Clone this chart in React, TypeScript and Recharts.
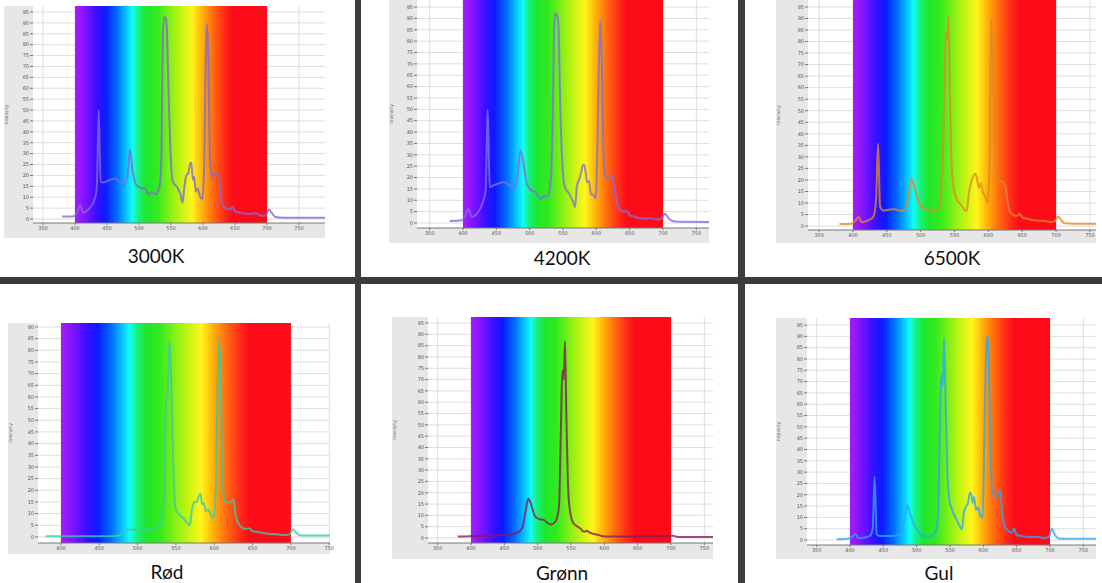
import React from "react";
import {
  LineChart,
  Line,
  XAxis,
  YAxis,
  CartesianGrid,
  ReferenceArea,
} from "recharts";

// wavelength grid (nm), shared by all six spectra
const WAVELENGTH = [
  380, 398, 404, 408, 413, 422, 430, 434, 437, 440, 445, 455, 462, 470, 477, 482, 486, 490, 496,
  503, 509, 515, 520, 527, 532, 535, 537, 539, 541, 543, 546, 549, 553, 559, 565, 568, 571, 574,
  577, 580, 582, 584, 586, 589, 592, 595, 599, 602, 604, 606, 608, 611, 614, 618, 622, 625, 628,
  633, 640, 643, 646, 650, 657, 665, 673, 682, 692, 698, 703, 707, 713, 725, 800,
];

const I_3000K = [
  1.1, 1.3, 3.5, 6.4, 2.9, 4.8, 8.5, 14, 50, 17, 16.8, 18, 18.6, 17, 15.5, 20, 32, 22, 15.6,
  14.2, 14, 11.2, 12, 11.5, 14.8, 28, 80, 92.7, 92.5, 90, 60, 32, 17, 14.8, 11, 7.5, 15, 20,
  21, 25.5, 25.8, 18, 19.4, 12.5, 14, 10.5, 9.2, 27, 70, 89.7, 77, 27, 19.4, 21.5, 20, 20.5, 8.7,
  5.5, 4.5, 4.4, 5.7, 3.4, 3, 2.5, 2.3, 2.6, 1.5, 1.6, 4.4, 3, 0.9, 0.6, 0.5,
];

const I_4200K = [
  0.9, 1.2, 3.5, 6.3, 2.7, 4.5, 9.5, 14.4, 50, 15.8, 16.4, 17.6, 18, 16.4, 15.4, 21, 32, 27.6, 17,
  14.3, 13.7, 10.7, 11.4, 12, 20, 54, 89, 92.4, 91.5, 88, 50, 26, 15.5, 13, 9.5, 7, 16.5, 19,
  22, 25.5, 25.5, 22, 18, 18.5, 12.5, 12.5, 10.8, 40, 72, 89, 73, 28, 19.5, 20.5, 21, 19, 14,
  7, 5, 5, 5.3, 3.4, 2.8, 2.2, 1.9, 2.1, 1.5, 2, 4.1, 2.6, 1, 0.6, 0.4,
];

const I_6500K = [
  0.9, 1, 2.5, 3.9, 1.7, 2.5, 4, 11, 35.8, 8.3, 6.8, 7.2, 7.3, 6.6, 7, 13, 20.5, 18, 11,
  8, 7.4, 6.2, 6.6, 7.5, 24, 60, 83.7, 80.8, 91, 60, 24, 16, 11.9, 9.5, 7, 6.5, 14, 18.4,
  21, 22.8, 22, 19, 16.5, 18.5, 14.5, 13, 10, 30, 90, 76, 55, 24, 20, 19.3, 19.1, 17.5, 11,
  5.8, 4.5, 4.5, 5.3, 3.8, 3.2, 2.6, 2.3, 2.3, 1.8, 2.1, 4.2, 2.8, 1.2, 1, 1,
];

const I_ROED = [
  0.3, 0.3, 0.3, 0.3, 0.3, 0.3, 0.3, 0.3, 0.3, 0.3, 0.3, 0.3, 0.3, 0.4, 0.7, 1.8, 2.8, 3.2, 3.2,
  2.9, 3.1, 3.3, 3.6, 4.3, 7, 20, 59, 61, 84, 76, 37, 13, 10, 8.2, 5.8, 5, 12, 15,
  15, 17.5, 18.6, 14, 14.5, 11, 11.8, 10, 7.9, 20, 60, 85, 72, 22, 15.5, 14.8, 15, 16, 9,
  5, 3.5, 3.5, 3.7, 2.4, 2.1, 1.6, 1.3, 1.1, 0.8, 1.1, 3.2, 1.8, 0.6, 0.6, 0.6,
];

const I_GROENN = [
  0.7, 0.8, 0.9, 0.9, 0.9, 1, 1, 1, 1.1, 1.1, 1.2, 1.4, 1.7, 2.4, 4.5, 12, 17.5, 15, 9.6,
  8.3, 8, 6.6, 6, 7.5, 14, 50, 74, 70, 87, 55, 20, 11, 6.8, 5.2, 4, 3, 2.9, 3.2,
  2.6, 2.2, 2, 1.8, 1.7, 1.5, 1.3, 1, 0.8, 0.7, 0.7, 0.7, 0.7, 0.7, 0.7, 0.7, 0.7, 0.7, 0.7,
  0.7, 0.7, 0.7, 0.7, 0.7, 0.7, 0.7, 0.7, 0.8, 0.8, 1, 1, 0.7, 0.4, 0.4, 0.4,
];

const I_GUL = [
  0.3, 0.7, 1.6, 2.7, 0.8, 1.1, 1.8, 5, 28, 2.5, 1.8, 1.8, 1.8, 2, 3, 9, 15.5, 11.8, 7,
  3.6, 2, 1.6, 1.6, 2.8, 10, 55, 73, 68, 89, 66, 29.5, 18, 13.5, 9.5, 5.9, 4.8, 12.5, 14.7,
  16.3, 21, 20, 16.5, 19, 13.3, 14.5, 11, 10, 55, 82, 90, 82, 36, 20, 19.3, 20.8, 22, 12,
  5.5, 3.5, 3.2, 5.2, 2.2, 1.8, 1.4, 1.2, 1.4, 0.9, 1.2, 4.9, 2.4, 0.7, 0.6, 0.6,
];

const LABELS = ["3000K", "4200K", "6500K", "Rød", "Grønn", "Gul"];
const X_TICKS = [350, 400, 450, 500, 550, 600, 650, 700, 750];
const Y_TICKS_95 = [0, 5, 10, 15, 20, 25, 30, 35, 40, 45, 50, 55, 60, 65, 70, 75, 80, 85, 90, 95];
const Y_TICKS_90 = Y_TICKS_95.filter((t) => t <= 90);

const RAINBOW = [
  [0, "#a41ef8"],
  [0.04, "#8c14ff"],
  [0.12, "#3010ff"],
  [0.16, "#0a1cff"],
  [0.22, "#0070ff"],
  [0.28, "#08dcff"],
  [0.30, "#10fff0"],
  [0.33, "#18f080"],
  [0.37, "#1ee62a"],
  [0.43, "#34ea1e"],
  [0.50, "#8cf014"],
  [0.57, "#d8f414"],
  [0.61, "#fff51c"],
  [0.66, "#ffb40a"],
  [0.72, "#ff6a10"],
  [0.78, "#ff2a18"],
  [0.82, "#fc0c18"],
  [1, "#fc0c18"],
];

interface PanelCfg {
  id: string;
  left: number;
  top: number;
  width: number;
  height: number;
  yW: number;
  xH: number;
  padR: number;
  xDomain: [number, number];
  yDomain: [number, number];
  yTicks: number[];
  color: string;
  labelX: number;
  labelY: number;
}

const PANELS: PanelCfg[] = [
  { id: "p1", left: 4, top: 6, width: 321, height: 232, yW: 29, xH: 15, padR: 0, xDomain: [334.4, 790.6], yDomain: [-1.84, 97.75], yTicks: Y_TICKS_95, color: "#7f6ad6", labelX: 156, labelY: 256 },
  { id: "p2", left: 389, top: 0, width: 320, height: 243, yW: 28, xH: 15, padR: 0, xDomain: [331, 769], yDomain: [-2.2, 98.1], yTicks: Y_TICKS_95, color: "#826ee0", labelX: 562, labelY: 258 },
  { id: "p3", left: 776, top: 0, width: 320, height: 243, yW: 32, xH: 13, padR: 0, xDomain: [333.5, 759], yDomain: [-1.7, 98], yTicks: Y_TICKS_95, color: "#e2862a", labelX: 952, labelY: 258 },
  { id: "p4", left: 8, top: 323, width: 322, height: 231, yW: 30, xH: 11, padR: 8, xDomain: [370, 751], yDomain: [-2.6, 91.7], yTicks: Y_TICKS_90, color: "#3cc9a2", labelX: 167, labelY: 572 },
  { id: "p5", left: 392, top: 317, width: 321, height: 242, yW: 36, xH: 16, padR: 0, xDomain: [335.5, 763], yDomain: [-2.2, 97.65], yTicks: Y_TICKS_95, color: "#861c5c", labelX: 562, labelY: 573 },
  { id: "p6", left: 776, top: 318, width: 320, height: 241, yW: 31, xH: 14, padR: 0, xDomain: [335.5, 769], yDomain: [-2.2, 98.1], yTicks: Y_TICKS_95, color: "#2ea8f2", labelX: 939, labelY: 573 },
];

const SERIES = [I_3000K, I_4200K, I_6500K, I_ROED, I_GROENN, I_GUL];

const tickStyle = { fontSize: 5, fill: "#555", fontFamily: "DejaVu Sans" };

const Panel = ({ cfg, values, label }: { cfg: PanelCfg; values: number[]; label: string }) => {
  const data = WAVELENGTH.map((nm, i) => ({ nm, v: values[i] }));
  const xt = X_TICKS.filter((t) => t >= cfg.xDomain[0] && t <= cfg.xDomain[1]);
  return (
    <>
      <div
        style={{
          position: "absolute",
          left: cfg.left,
          top: cfg.top,
          width: cfg.width,
          height: cfg.height,
          background: "#e7e7e7",
        }}
      >
        <LineChart
          width={cfg.width + cfg.padR}
          height={cfg.height}
          data={data}
          margin={{ top: 0, right: cfg.padR, bottom: 0, left: 0 }}
        >
          <defs>
            <linearGradient id={`rb-${cfg.id}`} x1="0" y1="0" x2="1" y2="0">
              {RAINBOW.map(([o, c]) => (
                <stop key={String(o)} offset={o as number} stopColor={c as string} />
              ))}
            </linearGradient>
          </defs>
          <CartesianGrid fill="#fff" stroke="#dedede" verticalValues={xt} horizontalValues={cfg.yTicks} />
          <XAxis
            dataKey="nm"
            type="number"
            domain={cfg.xDomain}
            allowDataOverflow
            ticks={xt}
            height={cfg.xH}
            tick={tickStyle}
            tickSize={2}
            tickMargin={1}
            axisLine={{ stroke: "#777" }}
            tickLine={{ stroke: "#777" }}
            interval={0}
          />
          <YAxis
            type="number"
            domain={cfg.yDomain}
            allowDataOverflow
            ticks={cfg.yTicks}
            width={cfg.yW}
            tick={tickStyle}
            tickSize={3}
            tickMargin={1}
            axisLine={false}
            tickLine={{ stroke: "#777" }}
            interval={0}
            label={{
              value: "Intensity",
              angle: -90,
              position: "insideLeft",
              offset: 2,
              style: { fontSize: 4.5, fill: "#666", fontFamily: "DejaVu Sans", textAnchor: "middle" },
            }}
          />
          <ReferenceArea x1={400} x2={700} fill={`url(#rb-${cfg.id})`} fillOpacity={1} stroke="none" ifOverflow="hidden" />
          <Line
            type="monotone"
            dataKey="v"
            stroke={cfg.color}
            strokeWidth={2}
            strokeOpacity={0.8}
            dot={false}
            isAnimationActive={false}
          />
        </LineChart>
      </div>
      <div
        style={{
          position: "absolute",
          left: cfg.labelX - 60,
          top: cfg.labelY - 12,
          width: 120,
          height: 24,
          lineHeight: "24px",
          textAlign: "center",
          fontFamily: "Lato, 'Open Sans', sans-serif",
          fontSize: 19,
          color: "#111",
        }}
      >
        {label}
      </div>
    </>
  );
};

const SEP = "#3c3c3c";

export default function App() {
  return (
    <div
      style={{
        position: "absolute",
        left: 0,
        top: 0,
        width: 1102,
        height: 583,
        background: "#fff",
        overflow: "hidden",
      }}
    >
      {PANELS.map((p, i) => (
        <Panel key={p.id} cfg={p} values={SERIES[i]} label={LABELS[i]} />
      ))}
      <div style={{ position: "absolute", left: 355, top: 0, width: 6, height: 583, background: SEP }} />
      <div style={{ position: "absolute", left: 738, top: 0, width: 7, height: 583, background: SEP }} />
      <div style={{ position: "absolute", left: 0, top: 277, width: 1102, height: 7, background: SEP }} />
    </div>
  );
}
